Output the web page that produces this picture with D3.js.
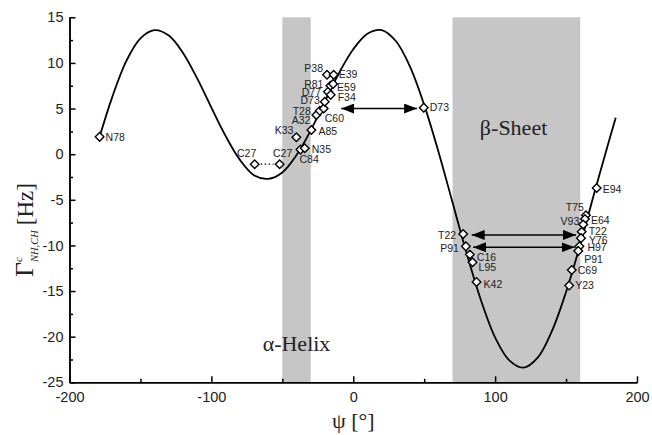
<html>
  <head>
    <meta charset="utf-8">
    <style>
      body { margin: 0; background: #fff; }
      .axis path, .axis line { stroke: #000; stroke-width: 1.5; }
      .axis text { font-family: "Liberation Sans", Arial, sans-serif; font-size: 14.5px; fill: #222; }
      .curve { fill: none; stroke: #000; stroke-width: 1.8; }
      .pt { fill: #fff; stroke: #000; stroke-width: 1.4; }
      .lbl { font-family: "Liberation Sans", Arial, sans-serif; font-size: 10.5px; fill: #222; }
      .big { font-family: "Liberation Serif", "Times New Roman", serif; fill: #222; }
    </style>
    <script src="https://d3js.org/d3.v7.min.js"></script>
  </head>
  <body></body>
</html>

<script>
  var width = 652, height = 435;

  // fitted curve (psi in degrees, coupling in Hz)
  var curvePsi = [-178.8, -170, -160, -150, -140, -130, -120, -110, -100, -90, -80, -70, -60, -50, -40, -30, -20, -10, 0, 10, 20, 30, 40, 50, 60, 70, 80, 90, 100, 110, 120, 130, 140, 150, 160, 170, 180, 185];
  var curveVal = [1.9, 6.2, 10.2, 12.7, 13.6, 13.0, 11.1, 8.3, 5.1, 2.0, -0.6, -2.3, -2.7, -2.0, -0.1, 2.6, 5.8, 8.9, 11.5, 13.2, 13.6, 12.4, 9.6, 5.4, 0.3, -5.3, -10.9, -16.0, -20.1, -22.6, -23.4, -22.3, -19.4, -15.1, -9.9, -4.2, 1.3, 4.0];

  // measured residues
  var ptName = ["N78", "C27", "C27", "K33", "C84", "N35", "A85", "A32", "T28", "C60", "D73", "D77", "F34", "R81", "E59", "P38", "E39",
                "D73", "T22", "P91", "C16", "L95", "K42",
                "E94", "T75", "E64", "V93", "T22", "Y76", "H97", "P91", "C69", "Y23"];
  var ptPsi = [-178.8, -69.5, -51.9, -40.1, -37.2, -34.2, -29.5, -26.0, -23.6, -20.8, -20.1, -17.8, -15.9, -16.1, -14.2, -18.5, -13.8,
               49.7, 77.5, 79.4, 82.2, 84.1, 86.9,
               171.6, 164.0, 163.3, 162.1, 161.0, 160.5, 159.4, 158.6, 154.0, 152.2];
  var ptVal = [1.9, -1.1, -1.1, 1.85, 0.5, 0.65, 2.65, 4.3, 4.75, 5.0, 5.75, 6.85, 6.5, 7.5, 7.7, 8.7, 8.7,
               5.1, -8.75, -10.1, -11.0, -11.85, -14.0,
               -3.7, -6.7, -7.1, -7.7, -8.5, -9.2, -10.1, -10.6, -12.7, -14.4];

  // label placement: [dx, dy, anchor]
  var ptLabelPos = [[6, 0, "start"], [-8, -11, "middle"], [3, -11, "middle"], [-3, -7, "end"], [-1, 10, "start"], [7, 1, "start"],
    [7, 1, "start"], [-6, 5, "end"], [-9, 0, "end"], [1, 10, "start"], [-5, -1, "end"], [-7, 1, "end"], [7, 2, "start"],
    [-7, -1, "end"], [4, 3, "start"], [-4, -6, "end"], [5, 0, "start"],
    [6, 0, "start"], [-7, 1, "end"], [-7, 2, "end"], [7, 3, "start"], [6, 5, "start"], [7, 2, "start"],
    [6, 1, "start"], [-2, -8, "end"], [6, 1, "start"], [-4, -3, "end"], [7, 0, "start"], [8, 2, "start"], [8, 1, "start"],
    [6, 8, "start"], [6, 0, "start"], [6, 0, "start"]];

  // shaded regions
  var bandName = ["alpha", "beta"];
  var bandFrom = [-50, 70];
  var bandTo = [-30, 160];

  // double arrows: [from psi, to psi, value]
  var arrowFrom = [-8.5, 83.5, 84.5];
  var arrowTo = [45, 157, 156];
  var arrowVal = [5.0, -8.85, -10.2];

  var xTicks = [-200, -100, 0, 100, 200];
  var xMinor = [-150, -50, 50, 150];
  var yTicks = [-25, -20, -15, -10, -5, 0, 5, 10, 15];
  var yMinor = [-22.5, -17.5, -12.5, -7.5, -2.5, 2.5, 7.5, 12.5];

  var svg = d3.select("body").append("svg")
    .attr("width", width)
    .attr("height", height)
    .style("display", "block");

  var x = d3.scaleLinear().domain([-200, 200]).range([69.5, 637]);
  var y = d3.scaleLinear().domain([-25, 15]).range([382.3, 17.3]);

  // bands
  svg.selectAll("rect.band")
    .data(bandName)
    .enter()
    .append("rect")
    .attr("class", "band")
    .attr("x", (d, i) => x(bandFrom[i]))
    .attr("width", (d, i) => x(bandTo[i]) - x(bandFrom[i]))
    .attr("y", y(15))
    .attr("height", y(-25) - y(15))
    .attr("fill", "#c6c6c6");

  // axes (plain hyphen minus like the original)
  var fmt = d => String(d);
  svg.append("g").attr("class", "axis")
    .attr("transform", "translate(0," + y(-25) + ")")
    .call(d3.axisBottom(x).tickValues(xTicks).tickFormat(fmt).tickSizeInner(-6).tickSizeOuter(0).tickPadding(9));
  svg.append("g").attr("class", "axis")
    .attr("transform", "translate(0," + y(-25) + ")")
    .call(d3.axisBottom(x).tickValues(xMinor).tickSizeInner(-3.5).tickSizeOuter(0).tickFormat(""));
  svg.append("g").attr("class", "axis")
    .attr("transform", "translate(" + x(-200) + ",0)")
    .call(d3.axisLeft(y).tickValues(yTicks).tickFormat(fmt).tickSizeInner(-6).tickSizeOuter(0).tickPadding(6));
  svg.append("g").attr("class", "axis")
    .attr("transform", "translate(" + x(-200) + ",0)")
    .call(d3.axisLeft(y).tickValues(yMinor).tickSizeInner(-3.5).tickSizeOuter(0).tickFormat(""));

  // curve
  var line = d3.line()
    .x(d => x(d))
    .y((d, i) => y(curveVal[i]))
    .curve(d3.curveCatmullRom.alpha(0.5));
  svg.append("path").attr("class", "curve").attr("d", line(curvePsi));

  // arrow heads
  svg.append("defs").append("marker")
    .attr("id", "head")
    .attr("markerUnits", "userSpaceOnUse")
    .attr("markerWidth", 14).attr("markerHeight", 10)
    .attr("refX", 13).attr("refY", 5)
    .attr("orient", "auto-start-reverse")
    .append("path")
    .attr("d", "M0,0 L13,5 L0,10 Z")
    .attr("fill", "#000");

  svg.selectAll("line.arrow")
    .data(arrowVal)
    .enter()
    .append("line")
    .attr("class", "arrow")
    .attr("x1", (d, i) => x(arrowFrom[i]))
    .attr("x2", (d, i) => x(arrowTo[i]))
    .attr("y1", d => y(d))
    .attr("y2", d => y(d))
    .attr("stroke", "#000")
    .attr("stroke-width", 1.5)
    .attr("marker-start", "url(#head)")
    .attr("marker-end", "url(#head)");

  // dotted link between the two C27 points
  svg.append("line")
    .attr("x1", x(ptPsi[1]) + 6).attr("x2", x(ptPsi[2]) - 6)
    .attr("y1", y(ptVal[1])).attr("y2", y(ptVal[2]))
    .attr("stroke", "#000").attr("stroke-width", 1.3)
    .attr("stroke-dasharray", "1.5,2.5");

  // points
  var pts = svg.selectAll("g.pt")
    .data(ptName)
    .enter()
    .append("g")
    .attr("transform", (d, i) => "translate(" + x(ptPsi[i]) + "," + y(ptVal[i]) + ")");
  pts.append("path")
    .attr("class", "pt")
    .attr("d", "M0,-4.3 L4.3,0 L0,4.3 L-4.3,0 Z");
  pts.append("text")
    .attr("class", "lbl")
    .attr("x", (d, i) => ptLabelPos[i][0])
    .attr("y", (d, i) => ptLabelPos[i][1])
    .attr("dy", "0.35em")
    .attr("text-anchor", (d, i) => ptLabelPos[i][2])
    .text(d => d);

  // region names
  svg.append("text").attr("class", "big")
    .attr("x", x(-40)).attr("y", y(-21.6))
    .attr("text-anchor", "middle").attr("font-size", 22)
    .text("\u03b1-Helix");
  svg.append("text").attr("class", "big")
    .attr("x", x(113)).attr("y", y(2.1))
    .attr("text-anchor", "middle").attr("font-size", 22)
    .text("\u03b2-Sheet");

  // axis titles
  svg.append("text").attr("class", "big")
    .attr("x", x(0)).attr("y", 428)
    .attr("text-anchor", "middle").attr("font-size", 22)
    .text("\u03c8 [\u00b0]");

  var yt = svg.append("text").attr("class", "big")
    .attr("transform", "translate(33,230) rotate(-90)")
    .attr("text-anchor", "middle");
  yt.append("tspan").attr("font-size", 26).text("\u0393");
  yt.append("tspan").attr("font-size", 11).attr("font-style", "italic").attr("dy", -11).text("c");
  yt.append("tspan").attr("font-size", 10.5).attr("font-style", "italic").attr("dx", -5).attr("dy", 16).text("NH,CH");
  yt.append("tspan").attr("font-size", 23).attr("dx", 5).attr("dy", -5).text("[Hz]");
</script>
